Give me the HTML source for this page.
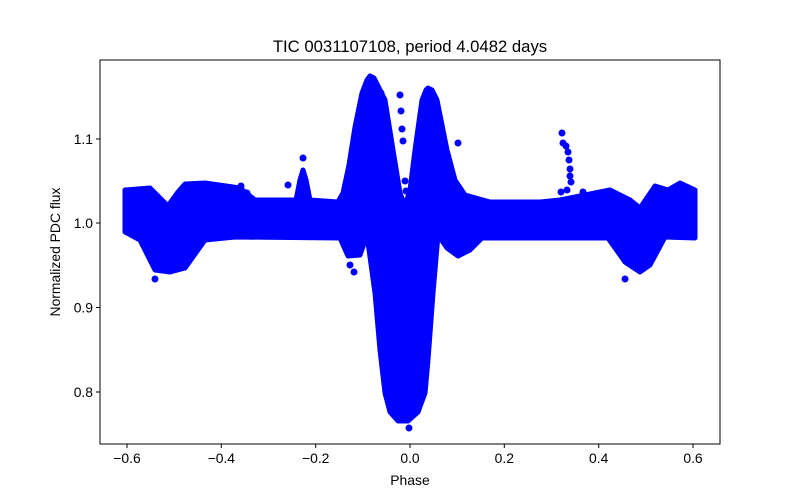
<!DOCTYPE html>
<html><head><style>
html,body{margin:0;padding:0;background:#fff;}
svg{display:block;font-family:"Liberation Sans","DejaVu Sans",sans-serif;}
</style></head><body>
<svg width="800" height="500" viewBox="0 0 800 500" xmlns="http://www.w3.org/2000/svg">
<rect width="800" height="500" fill="#fff"/>
<g fill="#0000ff" stroke="#0000ff" stroke-width="5" stroke-linejoin="round">
<polygon points="125,190 150,188 160,198 168,206 178,192 185,184 205,183 240,188 255,200 296,200 300,180 303,170 306,180 310,200 338,202 343,193 349,165 355,127 362,93 367,80 370,76 374,78 380,90 385,100 393,150 400,193 405,206 410,190 415,150 422,100 426,90 428,88 432,90 437,100 447,150 455,180 465,195 490,202 540,202 560,200 600,192 610,190 630,200 640,208 655,186 668,190 680,183 695,190 695,238 665,237 650,265 640,272 625,262 608,238 585,238 482,238 470,250 458,256 447,248 438,235 433,293 428,360 425,393 418,412 408,421 398,421 390,412 385,393 380,350 375,293 367,235 360,255 348,256 340,238 235,237 205,240 185,268 170,272 155,270 140,240 125,232"/>
</g>
<g fill="#0000ff">
<circle cx="155" cy="279" r="3.5"/><circle cx="350" cy="265" r="3.5"/><circle cx="354" cy="272" r="3.5"/>
<circle cx="372" cy="84" r="3.5"/><circle cx="381" cy="93" r="3.5"/><circle cx="384" cy="100" r="3.5"/>
<circle cx="400" cy="95" r="3.5"/><circle cx="401" cy="111" r="3.5"/><circle cx="402" cy="129" r="3.5"/><circle cx="403" cy="141" r="3.5"/>
<circle cx="405" cy="181" r="3.5"/><circle cx="406" cy="191" r="3.5"/><circle cx="458" cy="143" r="3.5"/><circle cx="409" cy="428" r="3.5"/>
<circle cx="562" cy="133" r="3.5"/><circle cx="563" cy="143" r="3.5"/><circle cx="566" cy="146" r="3.5"/><circle cx="568" cy="152" r="3.5"/>
<circle cx="569" cy="160" r="3.5"/><circle cx="570" cy="169" r="3.5"/><circle cx="570" cy="176" r="3.5"/><circle cx="571" cy="182" r="3.5"/>
<circle cx="567" cy="190" r="3.5"/><circle cx="561" cy="192" r="3.5"/><circle cx="583" cy="192" r="3.5"/><circle cx="548" cy="237" r="3.5"/>
<circle cx="241" cy="186" r="3.5"/><circle cx="247" cy="193" r="3.5"/><circle cx="288" cy="185" r="3.5"/><circle cx="625" cy="279" r="3.5"/>
<circle cx="303" cy="158" r="3.5"/><circle cx="393" cy="182" r="3.5"/>
</g>
<rect x="100" y="60" width="620" height="384" fill="none" stroke="#000" stroke-width="1"/>
<g stroke="#000" stroke-width="1">
<line x1="127" y1="444" x2="127" y2="448"/><line x1="221.3" y1="444" x2="221.3" y2="448"/>
<line x1="315.7" y1="444" x2="315.7" y2="448"/><line x1="410" y1="444" x2="410" y2="448"/>
<line x1="504.3" y1="444" x2="504.3" y2="448"/><line x1="598.7" y1="444" x2="598.7" y2="448"/>
<line x1="693" y1="444" x2="693" y2="448"/>
<line x1="96" y1="139" x2="100" y2="139"/><line x1="96" y1="223" x2="100" y2="223"/>
<line x1="96" y1="307.5" x2="100" y2="307.5"/><line x1="96" y1="392" x2="100" y2="392"/>
</g>
<g font-size="13.9" fill="#000" text-anchor="middle">
<text x="127" y="463">−0.6</text><text x="221.3" y="463">−0.4</text><text x="315.7" y="463">−0.2</text>
<text x="410" y="463">0.0</text><text x="504.3" y="463">0.2</text><text x="598.7" y="463">0.4</text><text x="693" y="463">0.6</text>
</g>
<g font-size="13.9" fill="#000" text-anchor="end">
<text x="93" y="144">1.1</text><text x="93" y="228">1.0</text><text x="93" y="312.5">0.9</text><text x="93" y="397">0.8</text>
</g>
<text x="410" y="485" font-size="13.9" text-anchor="middle">Phase</text>
<text transform="translate(60,252) rotate(-90)" font-size="13.9" text-anchor="middle">Normalized PDC flux</text>
<text x="410" y="52" font-size="16.7" text-anchor="middle">TIC 0031107108, period 4.0482 days</text>
</svg>
</body></html>
